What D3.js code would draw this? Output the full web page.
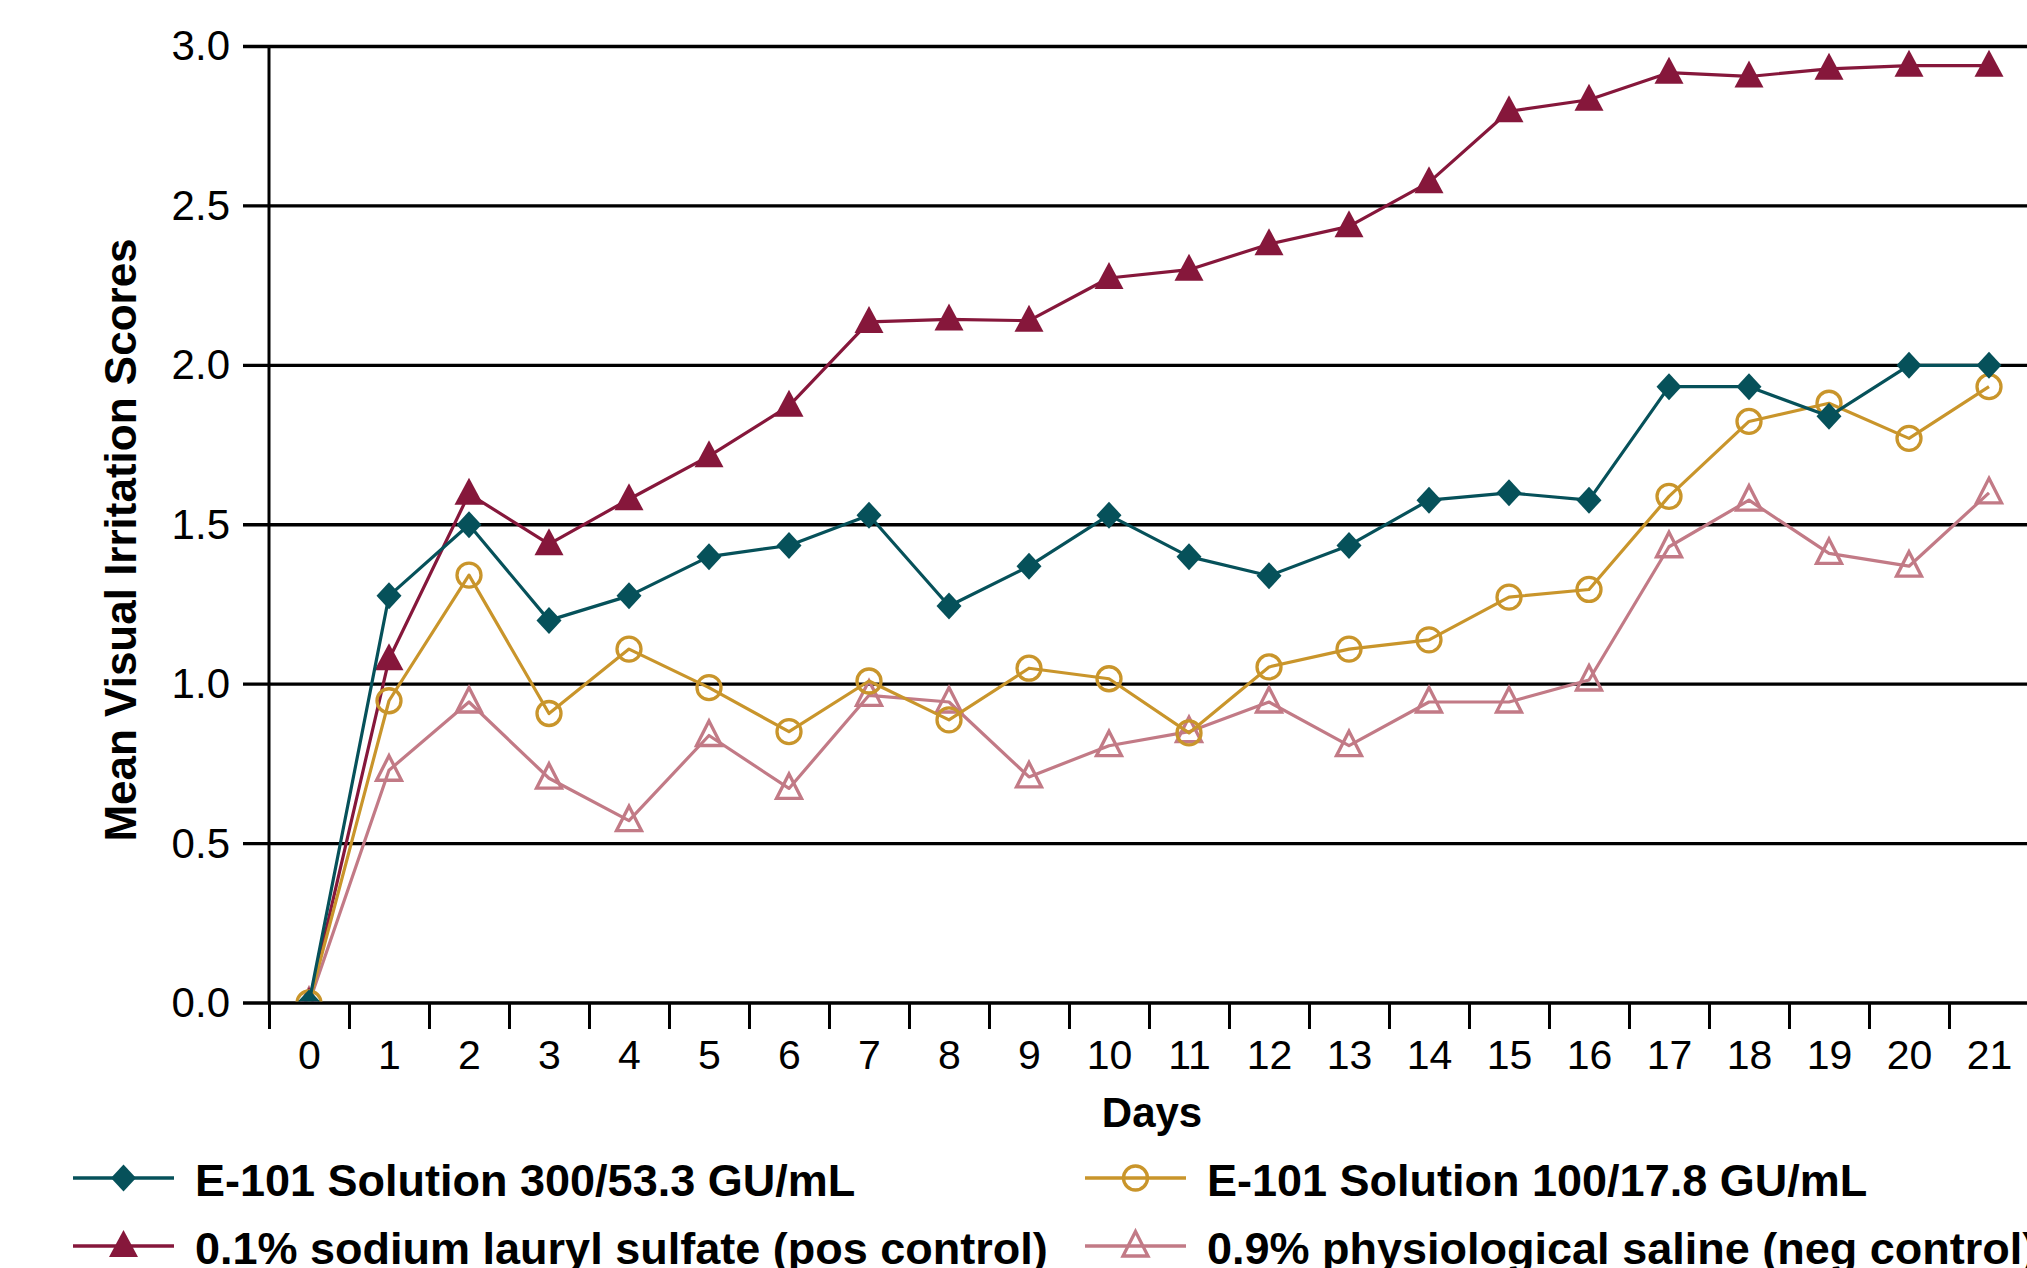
<!DOCTYPE html>
<html>
<head>
<meta charset="utf-8">
<script src="https://cdn.jsdelivr.net/npm/d3@7"></script>
<style>
  html, body { margin: 0; padding: 0; background: #fff; }
  svg { display: block; }
  text { font-family: "Liberation Sans", Arial, Helvetica, sans-serif; fill: #000; }
</style>
</head>
<body>
<svg id="chart" width="2027" height="1268"></svg>
<script>
// ---------------- data ----------------
const days = [0, 1, 2, 3, 4, 5, 6, 7, 8, 9, 10, 11, 12, 13, 14, 15, 16, 17, 18, 19, 20, 21];
const yTicks = [0, 0.5, 1.0, 1.5, 2.0, 2.5, 3.0];

const seriesNames = [
  "E-101 Solution 300/53.3 GU/mL",
  "E-101 Solution 100/17.8 GU/mL",
  "0.1% sodium lauryl sulfate (pos control)",
  "0.9% physiological saline (neg control)"
];
const e101High = [0, 1.277, 1.50, 1.20, 1.277, 1.40, 1.435, 1.53, 1.245, 1.37, 1.53, 1.40, 1.34, 1.435, 1.577, 1.60, 1.577, 1.933, 1.933, 1.84, 2.00, 2.00];
const e101Low  = [0, 0.948, 1.342, 0.908, 1.11, 0.989, 0.851, 1.01, 0.888, 1.05, 1.017, 0.847, 1.054, 1.11, 1.139, 1.273, 1.297, 1.589, 1.824, 1.881, 1.771, 1.933];
const slsPos   = [0, 1.078, 1.597, 1.439, 1.58, 1.715, 1.873, 2.136, 2.144, 2.14, 2.274, 2.30, 2.38, 2.436, 2.574, 2.797, 2.833, 2.918, 2.906, 2.93, 2.94, 2.94];
const salineNeg= [0, 0.73, 0.944, 0.705, 0.572, 0.839, 0.673, 0.965, 0.944, 0.709, 0.807, 0.851, 0.944, 0.807, 0.944, 0.944, 1.013, 1.431, 1.577, 1.41, 1.37, 1.60];

const colors = ["#06515a", "#c9952b", "#86173b", "#c27a86"];
const symbols = ["diamond", "circle", "triangleFilled", "triangleOpen"];
const seriesValues = [e101High, e101Low, slsPos, salineNeg];

// ---------------- layout ----------------
const svg = d3.select("#chart");
const W = 2027, H = 1268;
const x = d3.scaleLinear().domain([-0.5, 21.5]).range([269, 2029]);
const y = d3.scaleLinear().domain([0, 3]).range([1003, 46.5]);
const gridLeft = 243;

// gridlines (including zero line)
svg.append("g").selectAll("line").data(yTicks).join("line")
  .attr("x1", gridLeft).attr("x2", W)
  .attr("y1", d => y(d)).attr("y2", d => y(d))
  .attr("stroke", "#000").attr("stroke-width", 3.4);

// y axis
const yAxis = d3.axisLeft(y).tickValues(yTicks).tickFormat(d3.format(".1f"))
  .tickSize(269 - gridLeft).tickPadding(13);
const gy = svg.append("g").attr("transform", "translate(269,0)").call(yAxis);
gy.select(".domain").attr("stroke", "#000").attr("stroke-width", 3).attr("d", `M0,${y(3)}V${y(0)}`);
gy.selectAll(".tick line").attr("stroke", "none");
gy.selectAll(".tick text").attr("font-size", 42).attr("fill", "#000")
  .style("font-family", "'Liberation Sans', Arial, sans-serif");

// x axis: boundary ticks
const boundaries = d3.range(-0.5, 21.6, 1);
const xTickAxis = d3.axisBottom(x).tickValues(boundaries).tickSize(26).tickFormat("");
const gxt = svg.append("g").attr("transform", `translate(0,${y(0)})`).call(xTickAxis);
gxt.select(".domain").remove();
gxt.selectAll(".tick line").attr("stroke", "#000").attr("stroke-width", 3);

// x axis labels
const xLabAxis = d3.axisBottom(x).tickValues(days).tickSize(0).tickPadding(37).tickFormat(d3.format("d"));
const gxl = svg.append("g").attr("transform", `translate(0,${y(0)})`).call(xLabAxis);
gxl.select(".domain").remove();
gxl.selectAll(".tick text").attr("font-size", 41).attr("fill", "#000")
  .style("font-family", "'Liberation Sans', Arial, sans-serif");

// axis titles
svg.append("text")
  .attr("transform", "translate(136,540) rotate(-90)")
  .attr("text-anchor", "middle")
  .attr("font-size", 44).attr("font-weight", "bold")
  .text("Mean Visual Irritation Scores");
svg.append("text")
  .attr("x", 1152).attr("y", 1127)
  .attr("text-anchor", "middle")
  .attr("font-size", 42).attr("font-weight", "bold")
  .text("Days");

// ---------------- marker drawing ----------------
function drawMarker(g, type, color) {
  if (type === "diamond") {
    g.append("path").attr("d", "M0,-13.5L12.5,0L0,13.5L-12.5,0Z").attr("fill", color);
  } else if (type === "circle") {
    g.append("circle").attr("r", 12).attr("fill", "none").attr("stroke", color).attr("stroke-width", 3.3);
  } else if (type === "triangleFilled") {
    g.append("path").attr("d", "M0,-16L14.5,11L-14.5,11Z").attr("fill", color);
  } else if (type === "triangleOpen") {
    g.append("path").attr("d", "M0,-14.5L12.5,10L-12.5,10Z").attr("fill", "none")
      .attr("stroke", color).attr("stroke-width", 3.3).attr("stroke-linejoin", "miter");
  }
}

// ---------------- series ----------------
svg.append("clipPath").attr("id", "plotClip")
  .append("rect").attr("x", 269).attr("y", 0).attr("width", W - 269).attr("height", y(0) - 1.5);

const plot = svg.append("g").attr("clip-path", "url(#plotClip)");
const line = d3.line().x((d, i) => x(days[i])).y(d => y(d));
const drawOrder = [3, 2, 1, 0];
drawOrder.forEach(si => {
  const g = plot.append("g");
  g.append("path").datum(seriesValues[si])
    .attr("d", line).attr("fill", "none")
    .attr("stroke", colors[si]).attr("stroke-width", 3.2).attr("stroke-linejoin", "round");
  g.selectAll("g.m").data(seriesValues[si]).join("g").attr("class", "m")
    .attr("transform", (d, i) => `translate(${x(days[i])},${y(d)})`)
    .each(function () { drawMarker(d3.select(this), symbols[si], colors[si]); });
});

// ---------------- legend ----------------
const legendPos = [
  { lx: 73, ly: 1178 }, { lx: 1085, ly: 1178 },
  { lx: 73, ly: 1246 }, { lx: 1085, ly: 1246 }
];
seriesNames.forEach((name, si) => {
  const p = legendPos[si];
  const g = svg.append("g").attr("transform", `translate(${p.lx},${p.ly})`);
  g.append("line").attr("x1", 0).attr("x2", 101).attr("y1", 0).attr("y2", 0)
    .attr("stroke", colors[si]).attr("stroke-width", 3.4);
  const mg = g.append("g").attr("transform", "translate(50.5,0)");
  drawMarker(mg, symbols[si], colors[si]);
  g.append("text").attr("x", 122).attr("y", 18)
    .attr("font-size", 45).attr("font-weight", "bold")
    .text(name);
});
</script>
</body>
</html>
